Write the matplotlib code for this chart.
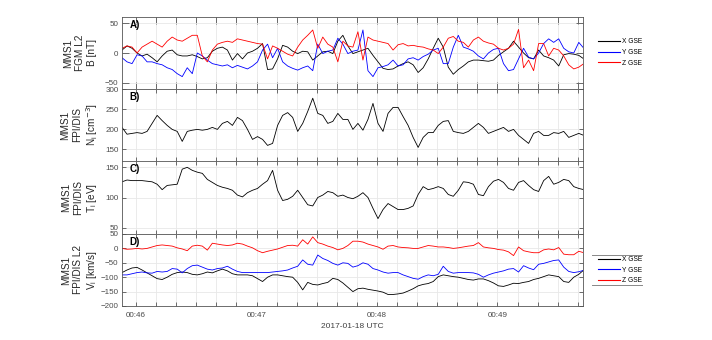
import datetime as dt

import matplotlib
matplotlib.use("Agg")
import matplotlib.dates as mdates
import matplotlib.pyplot as plt
from matplotlib.lines import Line2D
import numpy as np

plt.rcParams["font.family"] = ["Liberation Sans", "DejaVu Sans"]

# time grid: seconds after 2017-01-18 00:45:00, one sample every 2.5 s
T_START = 53.0
T_STEP = 2.5

# --- panel A: FGM B [nT] ---
bx = [5, 12, 8, 0, -5, -2, -8, -15, -5, 3, 5, -3, -5, -5, -3, -6, -10, -8, 3, 8,
      10, 5, -12, -1, -10, 0, 3, 8, 16, -28, -27, -10, 13, 10, 3, -1, 3, 2, -12, -5,
      2, 3, -1, 20, 30, 12, -1, 2, 5, 8, -4, -15, -26, -28, -27, -22, -18, -15, -20, -33,
      -25, -10, 8, 25, 10, -24, -36, -28, -22, -15, -12, -12, -13, -14, -12, -4, 2, 8, 20, 10,
      0, -8, -10, 5, -5, -8, -12, -22, -3, -1, -2, -4, -10]
by = [-8, -15, -18, -3, -5, -15, -15, -18, -20, -25, -28, -35, -40, -25, -35, 0, -5, -12, -18, -20,
      -22, -20, -25, -21, -24, -27, -22, -15, 5, 15, -8, 8, -15, -22, -26, -29, -25, -22, -30, 15,
      -1, 3, 5, 25, 15, -1, 3, 5, 39, -30, -40, -25, -23, -20, -12, -22, -20, -10, -8, -12,
      -6, -2, 5, 8, -18, -18, 10, 30, 10, 7, 3, -5, -10, 0, 6, 8, -18, -30, -28, -10,
      8, -7, -10, 0, 16, 24, 18, 24, 8, 2, 0, 18, 8]
bz = [8, 12, 10, 0, 10, 15, 20, 15, 10, 20, 27, 22, 20, 25, 30, 30, -5, -15, 5, 15,
      18, 20, 18, 24, 22, 20, 18, 16, 15, -10, 12, 8, 3, -2, -5, 10, 22, 30, 39, 8,
      27, 15, 10, -15, 20, 12, 10, 36, -12, 27, 22, 20, 18, 16, 5, 14, 16, 12, 13, 11,
      10, 7, 5, -1, 10, 25, 28, 20, 18, 10, 22, 27, 20, 17, 15, 8, 5, 8, 15, 40,
      -25, -12, -30, 16, 16, -5, 8, 5, -5, -20, -27, -24, -18]

# --- panel B: ion density [cm^-3] ---
ni = [205, 188, 190, 192, 190, 195, 215, 235, 222, 210, 200, 195, 170, 195, 198, 200, 198, 200, 205, 200,
      215, 220, 210, 230, 222, 200, 175, 182, 175, 160, 165, 210, 235, 242, 230, 195, 215, 245, 278, 240,
      235, 215, 220, 240, 225, 225, 200, 215, 198, 225, 265, 215, 195, 240, 255, 255, 232, 210, 180, 155,
      180, 192, 192, 210, 220, 222, 195, 192, 190, 195, 205, 215, 205, 190, 195, 200, 205, 195, 200, 185,
      175, 165, 190, 195, 185, 185, 192, 190, 195, 180, 185, 190, 185]

# --- panel C: ion temperature [eV] ---
ti = [126, 129, 128, 128, 128, 127, 126, 122, 113, 120, 121, 122, 147, 150, 145, 142, 140, 130, 125, 120,
      117, 115, 112, 104, 101, 108, 112, 115, 122, 128, 145, 112, 95, 97, 102, 112, 100, 88, 86, 100,
      104, 110, 108, 102, 104, 100, 98, 102, 108, 100, 82, 65, 80, 90, 85, 80, 80, 82, 86, 105,
      118, 113, 115, 118, 115, 105, 102, 112, 126, 125, 122, 105, 103, 118, 127, 130, 125, 115, 112, 125,
      128, 120, 113, 110, 128, 135, 122, 125, 130, 128, 118, 115, 113]

# --- panel D: ion velocity [km/s] ---
vx = [-84, -75, -68, -66, -75, -85, -95, -105, -108, -100, -90, -84, -82, -84, -90, -92, -88, -82, -85, -78,
      -72, -78, -88, -92, -92, -92, -95, -105, -115, -100, -92, -92, -95, -98, -100, -118, -144, -118, -125, -127,
      -122, -118, -104, -108, -120, -135, -150, -140, -138, -142, -145, -148, -152, -160, -160, -158, -155, -148, -140, -130,
      -125, -122, -115, -98, -92, -95, -98, -100, -104, -108, -110, -106, -106, -112, -120, -130, -132, -127, -121, -122,
      -118, -115, -108, -104, -98, -92, -95, -98, -115, -118, -100, -90, -75]
vy = [-92, -92, -88, -84, -82, -85, -86, -80, -82, -80, -70, -72, -85, -70, -60, -58, -65, -72, -75, -70,
      -68, -62, -72, -80, -84, -84, -84, -84, -84, -84, -82, -80, -78, -75, -68, -62, -40, -55, -58, -23,
      -35, -42, -52, -58, -50, -52, -65, -60, -50, -55, -70, -75, -82, -86, -84, -84, -92, -98, -104, -107,
      -98, -92, -95, -90, -62, -80, -86, -84, -84, -84, -85, -90, -100, -92, -86, -82, -78, -72, -70, -82,
      -60, -68, -74, -55, -52, -47, -42, -40, -65, -80, -84, -81, -76]
vz = [0, -3, -2, 0, -2, 0, 5, 10, 12, 10, 8, 2, -2, -8, 8, 11, 8, -6, 18, 15,
      12, 10, 12, 18, 15, 8, 2, -8, -15, -10, -6, -2, 4, 10, 11, 8, 30, 15, 40, 20,
      15, 8, 3, -5, 0, 10, 25, 25, 22, 15, 10, 5, -3, 8, 10, 5, 3, 2, 0, 0,
      5, 10, 8, 5, 5, 3, 0, 2, 5, 8, 10, 20, 5, 2, 0, -4, -6, -12, -25, 5,
      -8, -12, -15, -15, -5, -2, -5, 3, -20, -22, -22, -10, -15]

comp_labels = ["X GSE", "Y GSE", "Z GSE"]
comp_colors = ["black", "blue", "red"]

t0 = dt.datetime(2017, 1, 18, 0, 45, 0)
n = len(ni)
times = [t0 + dt.timedelta(seconds=T_START + T_STEP * i) for i in range(n)]
xlim = (t0 + dt.timedelta(seconds=53), t0 + dt.timedelta(seconds=282.6))

W, H = 712, 340
fig = plt.figure(figsize=(W / 100, H / 100), dpi=100)

left, width = 122 / W, 461 / W
rows = [(17, 89), (89, 161), (161, 234), (234, 306)]
axes = []
for top, bot in rows:
    axes.append(fig.add_axes([left, 1 - bot / H, width, (bot - top) / H]))

ylabels = [
    "MMS1\nFGM L2\nB [nT]",
    "MMS1\nFPI/DIS\nN$_\\mathregular{i}$ [cm$^{-3}$]",
    "MMS1\nFPI/DIS\nT$_\\mathregular{i}$ [eV]",
    "MMS1\nFPI/DIS L2\nV$_\\mathregular{i}$ [km/s]",
]
ylims = [(-61, 61), (121, 301), (39.5, 160.5), (-200, 48)]
yticks = [[-50, 0, 50], [150, 200, 250, 300], [50, 100, 150], [-200, -150, -100, -50, 0, 50]]
letters = ["A)", "B)", "C)", "D)"]

lw = 0.6
for c, s in zip(comp_colors, [bx, by, bz]):
    axes[0].plot(times, s, color=c, lw=lw)
axes[1].plot(times, ni, color="black", lw=lw)
axes[2].plot(times, ti, color="black", lw=lw)
for c, s in zip(comp_colors, [vx, vy, vz]):
    axes[3].plot(times, s, color=c, lw=lw)

for i, ax in enumerate(axes):
    ax.set_xlim(xlim)
    ax.set_ylim(ylims[i])
    ax.set_yticks(yticks[i])
    ax.xaxis.set_major_locator(mdates.MinuteLocator())
    ax.xaxis.set_minor_locator(mdates.SecondLocator(bysecond=range(0, 60, 10)))
    ax.xaxis.set_major_formatter(mdates.DateFormatter("%H:%M"))
    ax.grid(True, which="both", axis="x", color="#e8e8e8", lw=0.6)
    ax.grid(True, which="major", axis="y", color="#e8e8e8", lw=0.6)
    ax.set_axisbelow(True)
    tlen = 5 if i == 0 else 3
    ax.tick_params(which="both", direction="in", top=True, right=True,
                   length=tlen, width=0.6, color="#555555",
                   labelsize=5.8, labelcolor="#4a4a4a", pad=2.5)
    ax.tick_params(axis="x", pad=4.5)
    ax.tick_params(which="minor", length=tlen)
    for sp in ax.spines.values():
        sp.set_color("#555555")
        sp.set_linewidth(0.6)
    if i < 3:
        ax.tick_params(labelbottom=False)
    ax.set_ylabel(ylabels[i], fontsize=7.2, color="#262626", linespacing=1.2,
                  va="center", ha="center", multialignment="center")
    ax.yaxis.set_label_coords(-0.091, 0.5)
    ax.text(0.017, 0.89, letters[i], transform=ax.transAxes, fontsize=7,
            fontweight="bold", va="center", ha="left")

axes[3].set_xlabel("2017-01-18 UTC", fontsize=6, color="#404040", labelpad=3)

# legends
handles = [Line2D([], [], color=c, lw=0.8) for c in comp_colors]
axes[0].legend(handles, comp_labels, loc="center left", bbox_to_anchor=(595 / W, 1 - 52.5 / H),
               bbox_transform=fig.transFigure, frameon=False, fontsize=4.8,
               handlelength=3.3, handletextpad=0.2, labelspacing=0.55, borderpad=0.0)
axes[3].legend(handles, comp_labels, loc="center left", bbox_to_anchor=(595 / W, 1 - 270 / H),
               bbox_transform=fig.transFigure, frameon=False, fontsize=4.8,
               handlelength=3.3, handletextpad=0.2, labelspacing=0.55, borderpad=0.0)
for yy in (255, 285):
    fig.add_artist(Line2D([592 / W, 642 / W], [1 - yy / H] * 2, color="#888888", lw=0.7))

fig.savefig("out.png", dpi=100)
